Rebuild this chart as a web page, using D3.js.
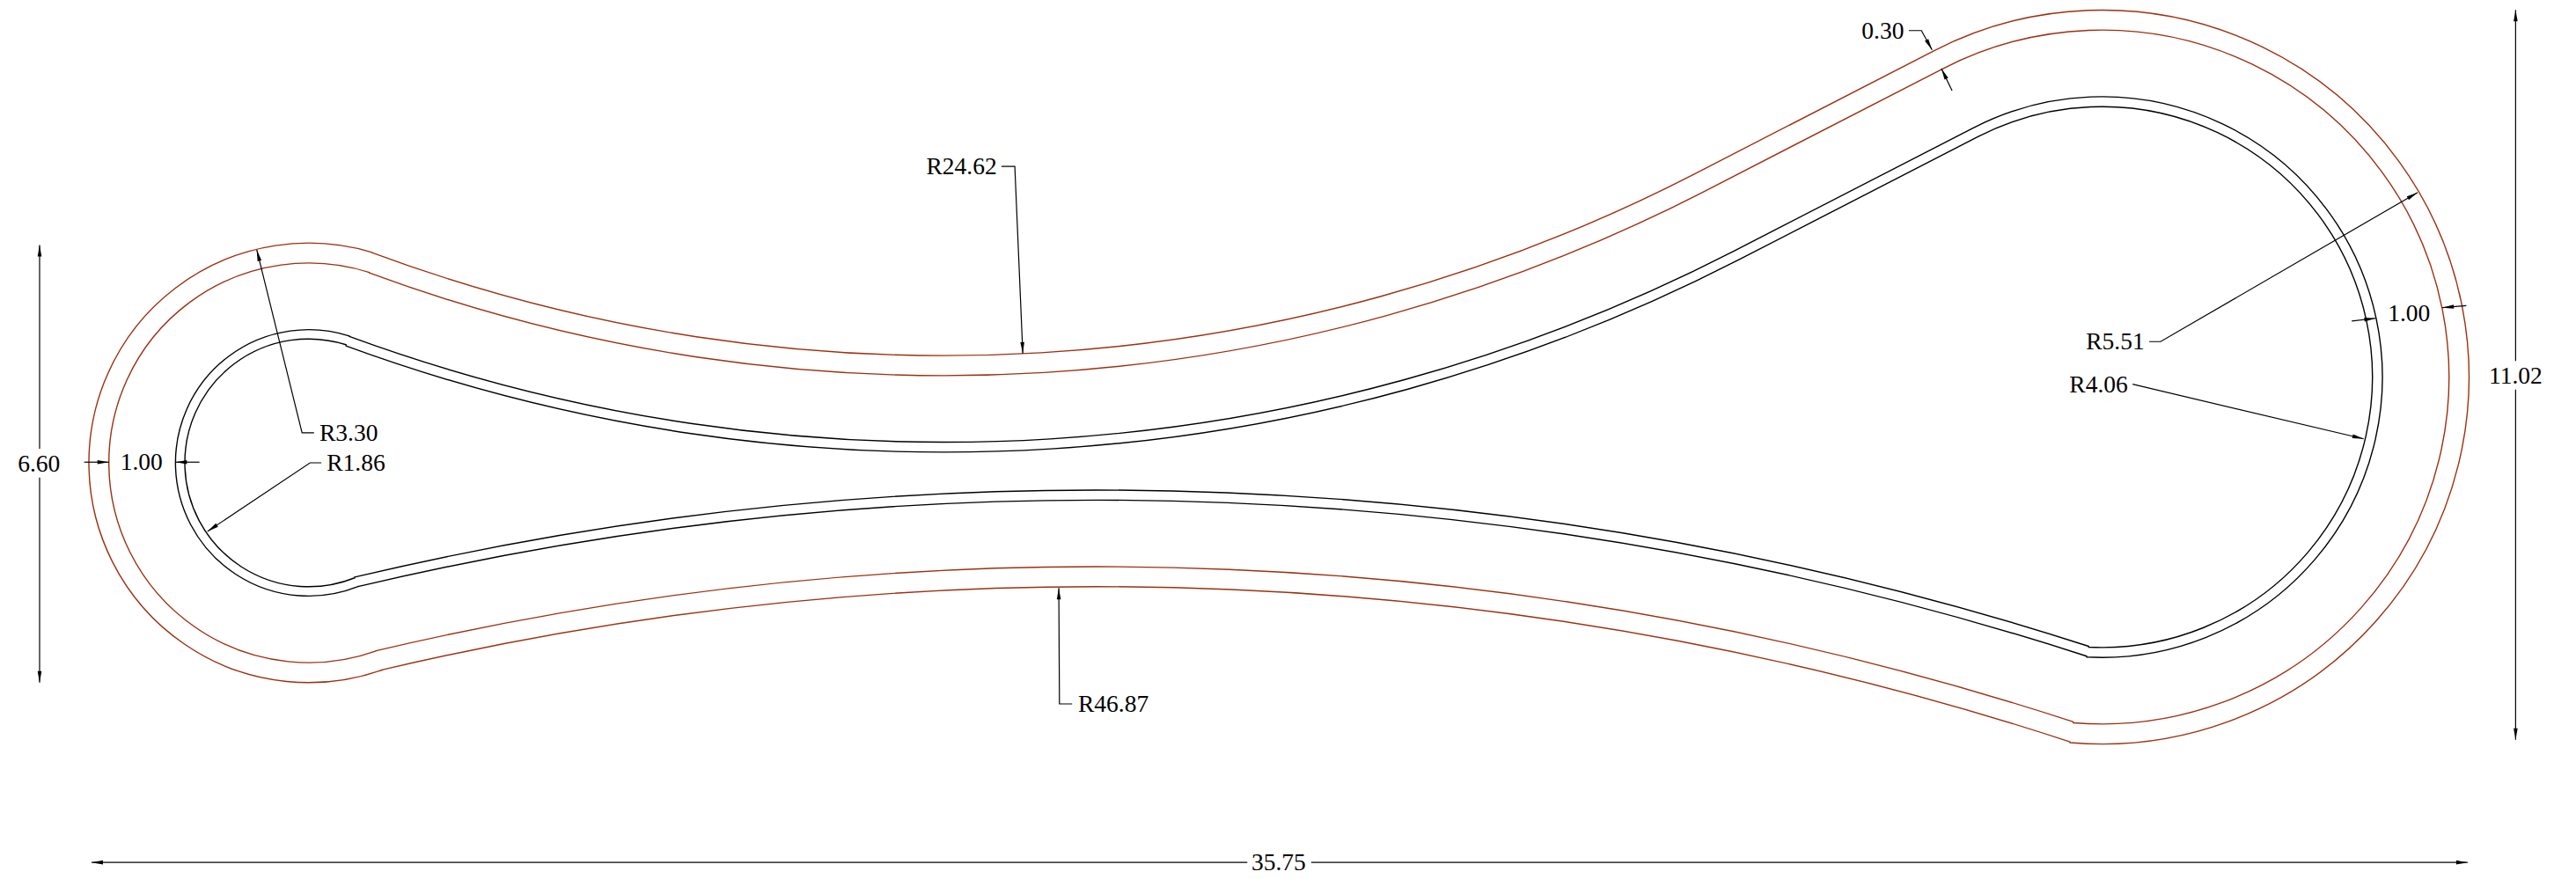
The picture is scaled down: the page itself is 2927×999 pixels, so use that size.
<!DOCTYPE html>
<html>
<head>
<meta charset="utf-8">
<style>
  html, body { margin: 0; background: #fff; overflow: hidden; }
  text { font-family: "Liberation Serif", serif; font-size: 27.5px; fill: #000; }
</style>
</head>
<body>
<script src="https://cdn.jsdelivr.net/npm/d3@7"></script>
<script>
'use strict'

// everything below is in drawing units
// four outlines, outermost first: rust pair, then black pair
const outlineColors = ['#9c3010', '#9c3010', '#000000', '#000000']

const leftCenter = [3.30, 0]
const rightCenter = [30.22, 1.288]
const topCenter = [12.84, 26.23]
const bottomCenter = [15.15, -48.73]

const leftRadii = [3.30, 3.00, 2.00, 1.86]
const rightRadii = [5.51, 5.21, 4.21, 4.06]
const topRadii = [24.62, 24.92, 25.92, 26.07]
const bottomRadii = [46.87, 47.17, 48.17, 48.32]

// where each outline passes from one arc to the next
const topLeftX = [4.25, 4.21, 3.91, 3.86]
const bottomLeftX = [4.41, 4.31, 4.04, 3.99]
const bottomRightX = [29.74, 29.79, 29.99, 30.02]
const tangentDeg = 27.2

// dimension and leader lines, the arrowhead sits on the last point
const dimLines = [
  [[-0.74, 0.21], [-0.74, 3.27]],
  [[-0.74, -0.22], [-0.74, -3.30]],
  [[-0.07, 0.01], [0.30, 0.01]],
  [[1.66, 0.01], [1.30, 0.01]],
  [[3.38, 0.45], [3.20, 0.45], [2.52, 3.20]],
  [[3.49, 0], [3.32, 0], [1.78, -1.03]],
  [[27.32, 6.49], [27.51, 6.49], [27.67, 6.20]],
  [[27.97, 5.59], [27.81, 5.92]],
  [[13.70, 4.45], [13.90, 4.45], [14.02, 1.64]],
  [[14.76, -3.62], [14.57, -3.62], [14.56, -1.88]],
  [[17.39, -6.00], [0.04, -6.00]],
  [[18.35, -6.00], [35.71, -6.00]],
  [[36.43, 1.53], [36.43, 6.80]],
  [[36.43, 1.10], [36.43, -4.16]],
  [[30.93, 1.82], [31.10, 1.82], [34.96, 4.06]],
  [[30.68, 1.18], [34.15, 0.36]],
  [[33.97, 2.13], [34.33, 2.17]],
  [[35.69, 2.36], [35.33, 2.33]]
]

const labelText = ['6.60', '1.00', 'R3.30', 'R1.86', '0.30', 'R24.62', 'R46.87', '35.75', '11.02', 'R5.51', 'R4.06', '1.00']
const labelX = [-0.75, 0.79, 3.90, 4.01, 26.93, 13.10, 15.38, 17.86, 36.43, 30.42, 30.17, 34.83]
const labelY = [-0.01, 0.01, 0.45, 0, 6.49, 4.45, -3.62, -6.00, 1.31, 1.82, 1.18, 2.25]

const width = 2927
const height = 999
const pxPerUnit = 75.69

const x = d3.scaleLinear().domain([0, 35.75]).range([101, 101 + 35.75 * pxPerUnit])
const y = d3.scaleLinear().domain([7, -7]).range([526 - 7 * pxPerUnit, 526 + 7 * pxPerUnit])
const len = (r) => r * pxPerUnit

const svg = d3.select('body').append('svg')
  .attr('width', width)
  .attr('height', height)
  .style('display', 'block')

const rad = (deg) => deg * Math.PI / 180

// screen angle of the point of a circle at a given drawing x, lower = below the centre
const angleAt = (center, r, xVal, lower) => {
  const a = Math.acos((xVal - center[0]) / r)
  return lower ? a : -a
}

const outlinePath = (i) => {
  const p = d3.path()
  const tan = rad(tangentDeg)
  p.arc(x(topCenter[0]), y(topCenter[1]), len(topRadii[i]),
    angleAt(topCenter, topRadii[i], topLeftX[i], true), Math.PI / 2 - tan, true)
  p.arc(x(rightCenter[0]), y(rightCenter[1]), len(rightRadii[i]),
    -Math.PI / 2 - tan, angleAt(rightCenter, rightRadii[i], bottomRightX[i], true), false)
  p.arc(x(bottomCenter[0]), y(bottomCenter[1]), len(bottomRadii[i]),
    angleAt(bottomCenter, bottomRadii[i], bottomRightX[i], false),
    angleAt(bottomCenter, bottomRadii[i], bottomLeftX[i], false), true)
  p.arc(x(leftCenter[0]), y(leftCenter[1]), len(leftRadii[i]),
    angleAt(leftCenter, leftRadii[i], bottomLeftX[i], true),
    angleAt(leftCenter, leftRadii[i], topLeftX[i], false), false)
  p.closePath()
  return p.toString()
}

svg.selectAll('path.outline').data(outlineColors)
  .enter()
  .append('path')
  .classed('outline', true)
  .attr('d', (d, i) => outlinePath(i))
  .style('fill', 'none')
  .style('stroke', (d) => d)
  .style('stroke-width', 1.4)

const line = d3.line().x((d) => x(d[0])).y((d) => y(d[1]))

svg.selectAll('path.dim').data(dimLines)
  .enter()
  .append('path')
  .classed('dim', true)
  .attr('d', line)
  .style('fill', 'none')
  .style('stroke', '#000')
  .style('stroke-width', 1.2)

// arrowheads, pointing along the last segment
const headLen = 13
const headHalf = 2.3

svg.selectAll('path.head').data(dimLines)
  .enter()
  .append('path')
  .classed('head', true)
  .attr('d', (d) => {
    const tip = d[d.length - 1]
    const prev = d[d.length - 2]
    const a = Math.atan2(y(tip[1]) - y(prev[1]), x(tip[0]) - x(prev[0]))
    return `M${x(tip[0])},${y(tip[1])}`
      + `L${x(tip[0]) - headLen * Math.cos(a) - headHalf * Math.sin(a)},${y(tip[1]) - headLen * Math.sin(a) + headHalf * Math.cos(a)}`
      + `L${x(tip[0]) - headLen * Math.cos(a) + headHalf * Math.sin(a)},${y(tip[1]) - headLen * Math.sin(a) - headHalf * Math.cos(a)}Z`
  })
  .style('fill', '#000')

svg.selectAll('text.label').data(labelText)
  .enter()
  .append('text')
  .classed('label', true)
  .attr('x', (d, i) => x(labelX[i]))
  .attr('y', (d, i) => y(labelY[i]))
  .attr('dy', '0.33em')
  .attr('text-anchor', 'middle')
  .text((d) => d)
</script>
</body>
</html>
